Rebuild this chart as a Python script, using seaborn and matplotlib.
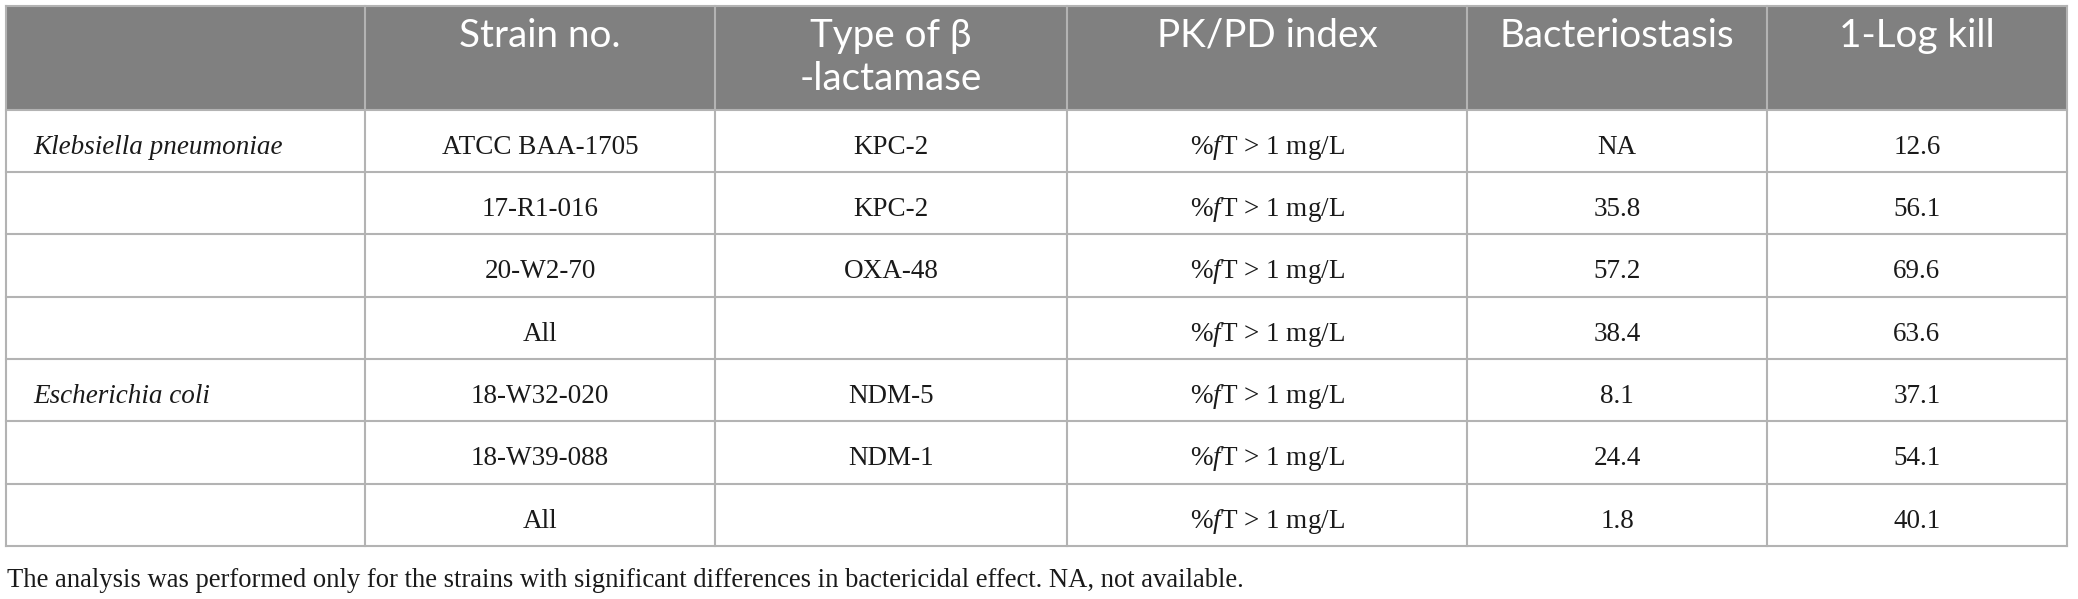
import matplotlib
matplotlib.use("Agg")
import matplotlib.pyplot as plt
import seaborn as sns
from matplotlib.patches import Rectangle

# ---- data ----
header_line1 = ["", "Strain no.", "Type of β", "PK/PD index", "Bacteriostasis", "1-Log kill"]
header_line2 = ["", "", "-lactamase", "", "", ""]
organisms = ["Klebsiella pneumoniae", "", "", "", "Escherichia coli", "", ""]
strains = ["ATCC BAA-1705", "17-R1-016", "20-W2-70", "All", "18-W32-020", "18-W39-088", "All"]
beta_lactamase = ["KPC-2", "KPC-2", "OXA-48", "", "NDM-5", "NDM-1", ""]
pkpd_index = [r"%$\mathit{f}$T > 1 mg/L"] * 7
bacteriostasis = ["NA", "35.8", "57.2", "38.4", "8.1", "24.4", "1.8"]
log_kill = ["12.6", "56.1", "69.6", "63.6", "37.1", "54.1", "40.1"]
footnote = "The analysis was performed only for the strains with significant differences in bactericidal effect. NA, not available."

# ---- layout ----
W, H = 2078, 599
col_edges = [6, 365, 715, 1067, 1467, 1767, 2067]
header_top, header_bottom = 6, 109.5
table_bottom = 546
n_rows = len(strains)
row_h = (table_bottom - header_bottom) / n_rows

sns.set_theme(style="white")
plt.rcParams["mathtext.fontset"] = "custom"
plt.rcParams["mathtext.rm"] = "Liberation Serif"
plt.rcParams["mathtext.it"] = "Liberation Serif:italic"

fig = plt.figure(figsize=(W / 100, H / 100), dpi=100)
ax = fig.add_axes([0, 0, 1, 1])
ax.set_xlim(0, W)
ax.set_ylim(H, 0)
ax.axis("off")

header_bg = "#808080"
line_col = "#b3b3b3"
lw = 1.5
txt_col = "#1a1a1a"
head_font = ["Lato", "DejaVu Sans"]
body_font = ["Liberation Serif", "DejaVu Serif"]

renderer = fig.canvas.get_renderer()

def fit_size(text, family, target_px, style="normal", base=20):
    t = ax.text(0, 0, text, fontsize=base, family=family, style=style)
    w = t.get_window_extent(renderer).width
    t.remove()
    return base * target_px / w

head_size = fit_size("Bacteriostasis", head_font, 235)
body_size = 19.5
foot_size = fit_size(footnote, body_font, 1238)

# header background
ax.add_patch(Rectangle((col_edges[0], header_top), col_edges[-1] - col_edges[0],
                       header_bottom - header_top, facecolor=header_bg, edgecolor="none", zorder=1))

# grid lines
row_edges = [header_top, header_bottom] + [header_bottom + row_h * (i + 1) for i in range(n_rows)]
for y in row_edges:
    ax.plot([col_edges[0], col_edges[-1]], [y, y], color=line_col, lw=lw, zorder=2,
            solid_capstyle="projecting")
for x in col_edges:
    ax.plot([x, x], [header_top, table_bottom], color=line_col, lw=lw, zorder=2,
            solid_capstyle="projecting")

# header text
centers = [(col_edges[i] + col_edges[i + 1]) / 2 for i in range(len(col_edges) - 1)]
for i in range(len(header_line1)):
    if header_line1[i]:
        ax.text(centers[i], 47, header_line1[i], ha="center", va="baseline", color="white",
                fontsize=head_size, family=head_font, zorder=3)
    if header_line2[i]:
        ax.text(centers[i], 90, header_line2[i], ha="center", va="baseline", color="white",
                fontsize=head_size, family=head_font, zorder=3)

# body
cols = [strains, beta_lactamase, pkpd_index, bacteriostasis, log_kill]
for r in range(n_rows):
    base_y = header_bottom + row_h * r + 44
    if organisms[r]:
        ax.text(33, base_y, organisms[r], ha="left", va="baseline", color=txt_col,
                fontsize=body_size, family=body_font, style="italic", zorder=3)
    for c, values in enumerate(cols):
        if values[r]:
            ax.text(centers[c + 1], base_y, values[r], ha="center", va="baseline", color=txt_col,
                    fontsize=body_size, family=body_font, zorder=3)

ax.text(7, 587, footnote, ha="left", va="baseline", color=txt_col, fontsize=foot_size,
        family=body_font, zorder=3)

fig.savefig("out.png", dpi=100, facecolor="white")
